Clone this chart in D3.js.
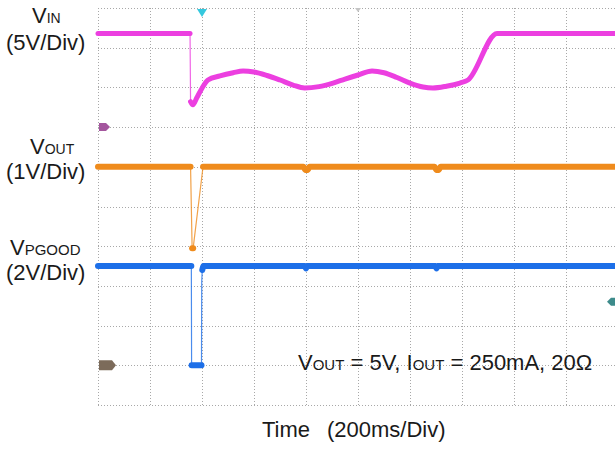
<!DOCTYPE html>
<html>
<head>
<meta charset="utf-8">
<script src="https://cdn.jsdelivr.net/npm/d3@7"></script>
<style>
  body { margin: 0; background: #fff; }
  text { font-family: "Liberation Sans", Arial, sans-serif; fill: #1a1a1a; }
</style>
</head>
<body>
<svg id="chart" width="615" height="449"></svg>
<script>
// time in ms, values in volts
const gridTimes = [0, 200, 400, 600, 800, 1000, 1200, 1400, 1600, 1800, 2000];
const gridDivs = [0, 1, 2, 3, 4, 5, 6, 7, 8, 9, 10];

const vinTime = [0, 354, 356, 365, 380, 400, 423, 469, 520, 558, 600, 650, 700, 750, 795, 850, 904, 950, 1000, 1054, 1100, 1150, 1200, 1250, 1288, 1340, 1392, 1423, 1535, 2000];
const vinVolts = [11.8, 11.8, 3.2, 2.8, 3.7, 4.9, 5.93, 6.44, 6.85, 7.07, 6.94, 6.5, 5.93, 5.3, 4.92, 5.1, 5.55, 6.05, 6.56, 7.07, 6.85, 6.25, 5.55, 5.05, 4.92, 5.15, 5.55, 5.93, 11.8, 11.8];

const voutTime = [0, 356, 362, 366, 404, 790, 798, 806, 814, 1294, 1302, 1310, 1318, 2000];
const voutVolts = [5, 5, 2.95, 2.95, 5, 5, 4.92, 4.92, 5, 5, 4.92, 4.92, 5, 5];

const pgTime = [0, 359, 360, 398, 399, 401, 406, 796, 800, 804, 1298, 1302, 1306, 2000];
const pgVolts = [5, 5, 0, 0, 4.2, 4.8, 5, 5, 4.88, 5, 5, 4.88, 5, 5];

// channel setup: ground position (divisions from bottom) and volts per division
const vinCh = { ground: 7, perDiv: 5, color: "#ec3fe0", width: 5 };
const voutCh = { ground: 1, perDiv: 1, color: "#ef8b1c", width: 6 };
const pgCh = { ground: 1, perDiv: 2, color: "#1d6fe8", width: 6 };

const trigTimes = [400, 1000];
const trigLevelDiv = 2.6;

const svg = d3.select("#chart");

let x = d3.scaleLinear().domain([0, 2000]).range([98, 618]);
let yDiv = d3.scaleLinear().domain([0, 10]).range([405, 8]);

// dotted graticule
let grid = svg.append("g").attr("class", "grid")
  .attr("stroke", "#a8a8a8")
  .attr("stroke-width", 1)
  .attr("stroke-dasharray", "1,2");

grid.selectAll("line.v")
  .data(gridTimes)
  .enter().append("line")
  .attr("class", "v")
  .attr("x1", d => Math.round(x(d)) + 0.5)
  .attr("x2", d => Math.round(x(d)) + 0.5)
  .attr("y1", yDiv(10))
  .attr("y2", yDiv(0));

grid.selectAll("line.h")
  .data(gridDivs)
  .enter().append("line")
  .attr("class", "h")
  .attr("x1", x(0))
  .attr("x2", x(2000))
  .attr("y1", d => Math.round(yDiv(d)) + 0.5)
  .attr("y2", d => Math.round(yDiv(d)) + 0.5);

let lineSlow = d3.line().curve(d3.curveMonotoneX);
let lineFast = d3.line();

function drawTrace(times, volts, ch) {
  let pts = times.map((t, i) => [x(t), yDiv(ch.ground + volts[i] / ch.perDiv)]);

  // fast edges are drawn thin, like on the scope
  let runs = [];
  for (let i = 1; i < pts.length; i++) {
    let dx = pts[i][0] - pts[i - 1][0];
    let dy = Math.abs(pts[i][1] - pts[i - 1][1]);
    let fast = dy > 3 * dx + 6;
    let last = runs[runs.length - 1];
    if (last && last.fast === fast) last.pts.push(pts[i]);
    else runs.push({ fast: fast, pts: [pts[i - 1], pts[i]] });
  }

  let g = svg.append("g");
  runs.forEach(r => {
    g.append("path")
      .attr("d", (r.fast ? lineFast : lineSlow)(r.pts))
      .attr("fill", "none")
      .attr("stroke", ch.color)
      .attr("stroke-opacity", r.fast ? 0.8 : 1)
      .attr("stroke-width", r.fast ? 1.2 : ch.width)
      .attr("stroke-linecap", "round")
      .attr("stroke-linejoin", "round");
  });
}

drawTrace(vinTime, vinVolts, vinCh);
drawTrace(voutTime, voutVolts, voutCh);
drawTrace(pgTime, pgVolts, pgCh);

// ground markers on the left edge
function groundMarker(div, w, h, color) {
  let x0 = x(0) + 1, yc = yDiv(div);
  svg.append("path")
    .attr("d", "M" + x0 + "," + (yc - h / 2) + "H" + (x0 + w - 4) + "L" + (x0 + w) + "," + yc +
      "L" + (x0 + w - 4) + "," + (yc + h / 2) + "H" + x0 + "Z")
    .attr("fill", color);
}
groundMarker(vinCh.ground, 11, 8, "#a4569e");
groundMarker(pgCh.ground, 17, 10, "#7c6b5a");

// trigger level marker on the right edge
let yt = yDiv(trigLevelDiv);
svg.append("path")
  .attr("d", "M607," + yt + "L611," + (yt - 4) + "H616V" + (yt + 4) + "H611Z")
  .attr("fill", "#3d8b8b");

// trigger position markers along the top
svg.append("path")
  .attr("d", "M" + (x(trigTimes[0]) - 5) + ",9H" + (x(trigTimes[0]) + 5) + "L" + x(trigTimes[0]) + ",17Z")
  .attr("fill", "#35c8de");
svg.append("path")
  .attr("d", "M" + (x(trigTimes[1]) - 3) + ",8H" + (x(trigTimes[1]) + 3) + "L" + x(trigTimes[1]) + ",12Z")
  .attr("fill", "#c4c4c4");

// channel labels
function chLabel(xp, yp, main, sub, subSize) {
  let t = svg.append("text").attr("x", xp).attr("y", yp).style("font-size", "22px");
  t.append("tspan").text(main);
  t.append("tspan").style("font-size", subSize + "px").text(sub);
}
chLabel(32, 23, "V", "IN", 14);
chLabel(30, 154, "V", "OUT", 14);
chLabel(10, 255, "V", "PGOOD", 15);

svg.append("text").attr("x", 6).attr("y", 50).style("font-size", "22px").text("(5V/Div)");
svg.append("text").attr("x", 6).attr("y", 179).style("font-size", "22px").text("(1V/Div)");
svg.append("text").attr("x", 6).attr("y", 280).style("font-size", "22px").text("(2V/Div)");

// test conditions
let cond = svg.append("text").attr("x", 298).attr("y", 370).style("font-size", "22px");
cond.append("tspan").text("V");
cond.append("tspan").style("font-size", "15px").text("OUT");
cond.append("tspan").text(" = 5V, I");
cond.append("tspan").style("font-size", "15px").text("OUT");
cond.append("tspan").text(" = 250mA, 20\u03A9");

// time axis title
svg.append("text").attr("x", 262).attr("y", 437).style("font-size", "22px").text("Time");
svg.append("text").attr("x", 327).attr("y", 437).style("font-size", "22px").text("(200ms/Div)");
</script>
</body>
</html>
